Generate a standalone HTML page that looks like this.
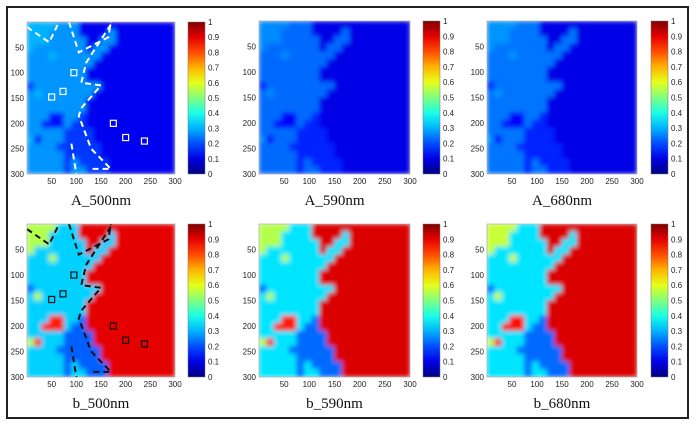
<!DOCTYPE html>
<html><head><meta charset="utf-8">
<style>
body{margin:0;background:#fff;}
svg{display:block;font-family:"Liberation Sans",sans-serif;}
.t{font-size:8px;fill:#222;}
.lbl{font-family:"Liberation Serif",serif;font-size:15px;fill:#111;}
</style></head>
<body>
<svg id="fig" width="696" height="426" viewBox="0 0 696 426">
<rect x="7" y="7" width="681" height="411" fill="#fff" stroke="#222" stroke-width="2"/>
</svg>
<script>
// Region mask (20x20, each cell 15 units). O=orange tissue, T=tissue, D=dark tissue, R=red blob, B=background
const maskRows = [
"OOOOTTTBBBBBBBBBBBBB",
"OOOTTTTBBBBTBBBBBBBB",
"OOOTTTTTBBTTBBBBBBBB",
"OTTTTTTTBTTBBBBBBBBB",
"TTTOTTTTTTBBBBBBBBBB",
"TTTTTTTTTBBBBBBBBBBB",
"TTTTTTTTBBBBBBBBBBBB",
"TTTTTTTTBBBBBBBBBBBB",
"DTTTTTTTTTBBBBBBBBBB",
"TOTTTTTTTBBBBBBBBBBB",
"TTTTTTTTBBBBBBBBBBBB",
"TTTTTTTTBBBBBBBBBBBB",
"TTTRRTTDBBBBBBBBBBBB",
"TTRRRTDDBBBBBBBBBBBB",
"TTTTTDDDDBBBBBBBBBBB",
"ORTTTDDDDBBBBBBBBBBB",
"TTTTDDDDDDBBBBBBBBBB",
"TTTTTDDDDDBBBBBBBBBB",
"TTTTTDTDDDDBBBBBBBBB",
"TTTTTDTTDDDBBBBBBBBB"];
const regionKeys = ["O","T","D","R","B"];
const valsA500 = [0.3,0.27,0.18,0.14,0.11];
const valsA590 = [0.26,0.23,0.16,0.13,0.1];
const valsA680 = [0.27,0.24,0.16,0.13,0.1];
const valsB500 = [0.55,0.33,0.22,0.85,0.9];
const valsB590 = [0.55,0.35,0.23,0.85,0.91];
const valsB680 = [0.57,0.35,0.23,0.86,0.91];
const tickVals = [50,100,150,200,250,300];
const cbTicks = [0,0.1,0.2,0.3,0.4,0.5,0.6,0.7,0.8,0.9,1];
const boxes = [[95,100],[73,137],[50,148],[175,200],[200,228],[238,235]];
const dashLines = [
 [[0,10],[45,40],[65,0]],
 [[85,0],[105,60],[165,30],[170,0]],
 [[170,5],[120,80],[110,120],[150,125],[110,170],[105,185],[130,250],[170,290],[130,290]],
 [[90,240],[100,300]]];

const panels = [
 {name:"A_500nm",x:27,y:22,w:148,h:152,cb:188,vals:valsA500,marks:"#fff"},
 {name:"A_590nm",x:259,y:21,w:151,h:153,cb:423,vals:valsA590},
 {name:"A_680nm",x:487,y:21,w:150,h:153,cb:651,vals:valsA680},
 {name:"b_500nm",x:27,y:224,w:148,h:153,cb:188,vals:valsB500,marks:"#111"},
 {name:"b_590nm",x:259,y:224,w:151,h:153,cb:423,vals:valsB590},
 {name:"b_680nm",x:487,y:224,w:150,h:153,cb:651,vals:valsB680}];

function jet(v){
  v=Math.max(0,Math.min(1,v));
  const f=t=>Math.round(255*Math.max(0,Math.min(1,1.5-Math.abs(4*v-t))));
  return `rgb(${f(3)},${f(2)},${f(1)})`;
}
const NS="http://www.w3.org/2000/svg";
const svg=document.getElementById('fig');
function el(tag,attrs,parent){const e=document.createElementNS(NS,tag);for(const k in attrs)e.setAttribute(k,attrs[k]);(parent||svg).appendChild(e);return e;}

const defs=el('defs',{});
const flt=el('filter',{id:'blur',x:'-5%',y:'-5%',width:'110%',height:'110%'},defs);
el('feGaussianBlur',{stdDeviation:'2.5',in:'SourceGraphic',edgeMode:'duplicate'},flt);
const grad=el('linearGradient',{id:'jetg',x1:'0',y1:'1',x2:'0',y2:'0'},defs);
for(let i=0;i<=10;i++){el('stop',{offset:i/10,'stop-color':jet(i/10)},grad);}

panels.forEach((p,pi)=>{
  const sx=u=>p.x+u*p.w/300, sy=v=>p.y+v*p.h/300;
  const g=el('g',{});
  
  
  const cp=el('clipPath',{id:'cp'+pi},defs);
  el('rect',{x:p.x,y:p.y,width:p.w,height:p.h},cp);
  const hg=el('g',{'clip-path':`url(#cp${pi})`},g);
  const inner=el('g',{filter:'url(#blur)'},hg);
  maskRows.forEach((row,r)=>{
    for(let c=0;c<row.length;c++){
      const v=p.vals[regionKeys.indexOf(row[c])];
      const cell=el('rect',{x:sx(c*15)-0.3,y:sy(r*15)-0.3,width:p.w/20+0.6,height:p.h/20+0.6,fill:jet(v)},inner);
      
      
    }
  });
  if(p.marks){
    dashLines.forEach(l=>{
      const pl=el('polyline',{points:l.map(q=>sx(q[0])+','+sy(q[1])).join(' '),fill:'none',stroke:p.marks,'stroke-width':2,'stroke-dasharray':'6,4'},hg);
      
      
    });
    boxes.forEach(b=>{
      const r=el('rect',{x:sx(b[0]-6),y:sy(b[1]-6),width:p.w*12/300,height:p.h*12/300,fill:'none',stroke:p.marks,'stroke-width':1.2},hg);
      
      
    });
  }
  el('rect',{x:p.x,y:p.y,width:p.w,height:p.h,fill:'none',stroke:'#999','stroke-width':0.6},g);
  tickVals.forEach(t=>{
    const xt=el('text',{x:sx(t),y:p.y+p.h+10,'text-anchor':'middle',class:'t'},g);xt.textContent=t;
    
    
    const yt=el('text',{x:p.x-3,y:sy(t)+3,'text-anchor':'end',class:'t'},g);yt.textContent=t;
    
    
  });
  const cb=el('rect',{x:p.cb,y:p.y,width:17,height:p.h,fill:'url(#jetg)',stroke:'#777','stroke-width':0.5},g);
  
  
  cbTicks.forEach(t=>{
    const yy=p.y+p.h-t*p.h;
    const ct=el('text',{x:p.cb+20,y:yy+3,class:'t'},g);ct.textContent=t;
    
    
  });
  const lb=el('text',{x:p.x+p.w/2,y:p.y+p.h+31,'text-anchor':'middle',class:'lbl'},g);lb.textContent=p.name;
  
  
});
</script>
</body></html>
